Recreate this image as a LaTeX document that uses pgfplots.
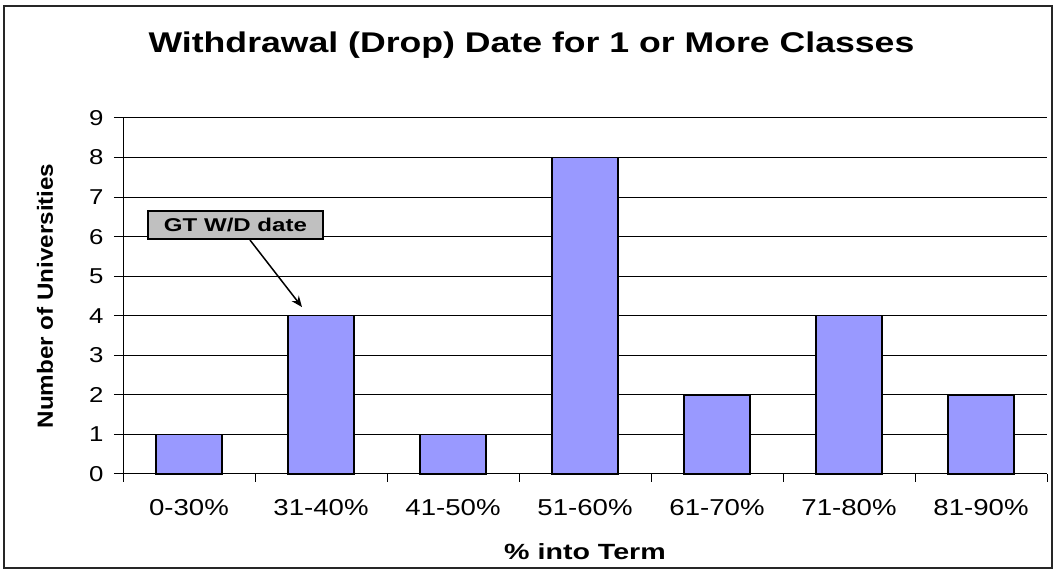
\documentclass[border=0pt]{standalone}
\usepackage{fontspec}
\setmainfont{Liberation Sans}[FakeStretch=1.3]
\newfontfamily\titlefont{Liberation Sans}[FakeStretch=1.25]
\newfontfamily\ylfont{Liberation Sans}[FakeStretch=1.1]
\newfontfamily\tickfont{Liberation Sans}[FakeStretch=1.2]
\usepackage{pgfplots}
\pgfplotsset{compat=1.18}
\usetikzlibrary{arrows.meta}
\definecolor{barblue}{HTML}{9999FF}
\definecolor{boxgray}{HTML}{C0C0C0}
\begin{document}
\begin{tikzpicture}
\useasboundingbox (0,0) rectangle (1056pt,572pt);
\draw[line width=1.5pt, black!85] (4pt,4pt) rectangle (1052pt,566pt);
\begin{axis}[
  at={(123pt,98pt)}, anchor=south west,
  scale only axis, width=924pt, height=356pt,
  xmin=-0.5, xmax=6.5, ymin=0, ymax=9,
  axis lines*=left,
  axis line style={black, line width=1pt},
  ytick={0,...,9},
  xtick={0,...,6},
  xticklabels={0-30\%,31-40\%,41-50\%,51-60\%,61-70\%,71-80\%,81-90\%},
  major x tick style={draw=none},
  minor xtick={-0.5,0.5,1.5,2.5,3.5,4.5,5.5,6.5},
  minor tick length=8pt,
  major tick length=9pt,
  tick align=outside,
  tick style={black, line width=1pt},
  ymajorgrids=true,
  grid style={black, line width=1pt},
  /pgf/number format/assume math mode=true,
  yticklabel style={font=\fontsize{21.5}{24}\selectfont\tickfont, xshift=-7pt},
  xticklabel style={font=\fontsize{23}{26}\selectfont\tickfont, yshift=-13pt},
  xlabel={\% into Term},
  xlabel style={font=\fontsize{22}{26}\selectfont\bfseries, at={(axis description cs:0.5,0)}, anchor=base, yshift=-85pt},
  ylabel={Number of Universities},
  ylabel style={font=\fontsize{22}{26}\selectfont\bfseries\ylfont, at={([xshift=-78pt]axis description cs:0,0.5)}, anchor=center},
  clip=false,
]
\addplot[ybar, bar width=66pt, fill=barblue, draw=black, line width=1.3pt]
  coordinates {(0,1) (1,4) (2,1) (3,8) (4,2) (5,4) (6,2)};
\draw[-{Stealth[length=11pt,width=9pt]}, line width=1.5pt] (axis cs:0.462,5.915) -- (axis cs:0.856,4.22);
\node[draw=black, fill=boxgray, line width=1.5pt, minimum width=175pt, minimum height=28pt, inner sep=0pt, font=\fontsize{18.5}{20}\selectfont\bfseries] at (axis cs:0.352,6.29) {GT W/D date};
\end{axis}
\node[anchor=base, font=\fontsize{28.5}{32}\selectfont\bfseries\titlefont] at (531.5pt,519pt) {Withdrawal (Drop) Date for 1 or More Classes};
\end{tikzpicture}
\end{document}
